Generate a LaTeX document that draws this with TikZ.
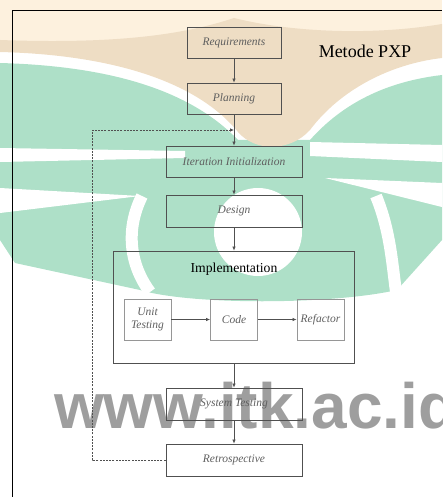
\documentclass[tikz,border=0pt]{standalone}
\usepackage{fontspec}
\setmainfont{Liberation Serif}
\newfontfamily\wmfont{Liberation Sans}
\usepackage{tikz}
\usetikzlibrary{positioning,arrows.meta,calc}
\definecolor{cream}{RGB}{253,241,222}
\definecolor{beige}{RGB}{238,221,196}
\definecolor{mint}{RGB}{174,224,200}
\definecolor{wmgray}{RGB}{158,158,158}
\definecolor{boxline}{RGB}{80,80,80}
\definecolor{subline}{RGB}{150,150,150}
\definecolor{labelgray}{RGB}{95,95,95}

\begin{document}
\begin{tikzpicture}[x=1pt,y=-1pt,
  stage/.style={draw=boxline, line width=0.8pt, minimum width=136pt, minimum height=31pt,
    inner sep=0pt, font=\fontsize{11.5}{13}\selectfont\itshape, text=labelgray},
  substage/.style={stage, draw=subline, minimum width=47pt, minimum height=41pt, align=center},
  flow/.style={draw=boxline, line width=0.7pt, -{Latex[length=4pt,width=3.5pt]}},
  back/.style={flow, dashed, dash pattern=on 2pt off 1.2pt}]
\useasboundingbox (0,0) rectangle (442,497);
% watermark behind the chart
\fill[cream] (0,0) rectangle (442,42);
\fill[mint] (0,63) .. controls (110,66) and (190,90) .. (238,140) -- (310,140)
  .. controls (350,95) and (400,80) .. (442,75) -- (442,240) -- (397,290)
  .. controls (330,305) and (190,305) .. (140,290) -- (15,263) -- (0,240) -- cycle;
\fill[beige] (0,40) .. controls (110,44) and (180,36) .. (234,18)
  .. controls (290,32) and (370,36) .. (442,24) -- (442,58)
  .. controls (390,64) and (340,90) .. (310,130) .. controls (290,152) and (255,152) .. (238,132)
  .. controls (200,85) and (120,55) .. (0,52) -- cycle;
\fill[white] (0,148) -- (185,151) -- (185,158) -- (0,162) -- cycle;
\fill[white] (310,142) -- (442,145) -- (442,162) -- (310,156) -- cycle;
\fill[white] (0,188) -- (140,196) -- (0,213) -- cycle;
\fill[white] (325,178) -- (442,183) -- (442,207) -- cycle;
\draw[white, line width=12pt] (142,196) .. controls (125,230) and (130,265) .. (150,292);
\draw[white, line width=12pt] (376,196) .. controls (390,230) and (392,262) .. (396,292);
\fill[white] (258,232) circle[radius=44pt];
\node[font=\wmfont\bfseries\fontsize{64}{64}\selectfont, text=wmgray, anchor=base west, inner sep=0pt]
  (site) at (54,428) {www.itk.ac.id};
% frame
\draw[line width=0.9pt] (12,497) -- (12,10) -- (442,10);
\node[font=\fontsize{18}{20}\selectfont, anchor=base] (title) at (365,58) {Metode PXP};
% stages
\node[stage, minimum width=94pt] (req) at (234,42.5) {Requirements};
\node[stage, minimum width=94pt] (plan) at (234,98.5) {Planning};
\node[stage] (iter) at (234,161.5) {Iteration Initialization};
\node[stage, minimum height=32pt] (design) at (234,211) {Design};
\node[draw=boxline, line width=0.8pt, minimum width=241pt, minimum height=112pt] (impl) at (234,307) {};
\node[font=\fontsize{13.7}{15}\selectfont, anchor=base] (impltitle) at (234,272) {Implementation};
\node[substage] (unit) at (147.5,319.5) {Unit\\Testing};
\node[substage] (code) at (234,319.5) {Code};
\node[substage] (refac) at (320.5,319.5) {Refactor};
\node[stage, minimum height=32pt] (systest) at (234,404) {System Testing};
\node[stage, minimum height=32pt] (retro) at (234,460) {Retrospective};
% arrows
\coordinate (merge) at ($(plan.south)!0.5!(iter.north)$);
\draw[flow] (req) -- (plan);
\draw[flow] (plan) -- (iter);
\draw[flow] (iter) -- (design);
\draw[flow] (design) -- (impl);
\draw[flow] (unit) -- (code);
\draw[flow] (code) -- (refac);
\draw[flow] (impl) -- (systest);
\draw[flow] (systest) -- (retro);
\draw[back] (retro.west) -| ($(merge)+(-142,0)$) -- (merge);
\end{tikzpicture}
\end{document}
